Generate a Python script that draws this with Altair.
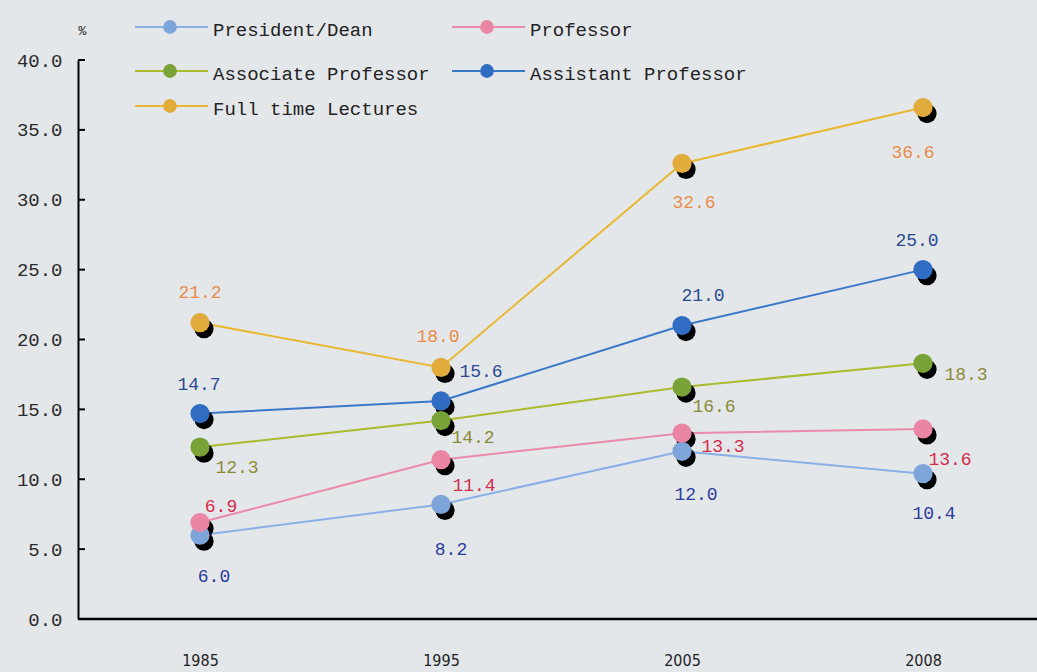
import altair as alt
import pandas as pd

# ---- data -------------------------------------------------------------
years = ["1985", "1995", "2005", "2008"]
series = [
    "President/Dean",
    "Professor",
    "Associate Professor",
    "Assistant Professor",
    "Full time Lectures",
]
president = [6.0, 8.2, 12.0, 10.4]
professor = [6.9, 11.4, 13.3, 13.6]
associate = [12.3, 14.2, 16.6, 18.3]
assistant = [14.7, 15.6, 21.0, 25.0]
lecturer = [21.2, 18.0, 32.6, 36.6]
y_ticks = [0, 5, 10, 15, 20, 25, 30, 35, 40]

# ---- styling ----------------------------------------------------------
marker_colors = ["#7ea5da", "#ea86a3", "#79a337", "#2f6cc2", "#e1ac3b"]
line_colors = ["#88b0e6", "#ea8aa8", "#aabb2c", "#3a78ca", "#e8b832"]
label_colors = ["#2b3c9c", "#d42a4a", "#8a8a36", "#2a4a92", "#e98c48"]
# pixel offsets of each value label from its marker
label_offsets = {
    "President/Dean": [(14, 42), (10, 46), (14, 44), (11, 40)],
    "Professor": [(21, -16), (33, 26), (41, 14), (27, 31)],
    "Associate Professor": [(37, 21), (32, 17), (32, 20), (43, 12)],
    "Assistant Professor": [(-1, -29), (40, -29), (21, -30), (-6, -29)],
    "Full time Lectures": [(0, -30), (-3, -30), (12, 40), (-10, 45)],
}
MONO = "Liberation Mono"
PLOT_W, PLOT_H = 959, 559

values_by_series = [president, professor, associate, assistant, lecturer]
df = pd.DataFrame(
    [
        {"series": s, "year": y, "value": v}
        for s, vals in zip(series, values_by_series)
        for y, v in zip(years, vals)
    ]
)

x_enc = alt.X(
    "year:O",
    scale=alt.Scale(type="point", domain=years, range=[122, 845], padding=0),
    axis=alt.Axis(
        title=None,
        labelAngle=0,
        ticks=False,
        domain=False,
        labelPadding=33,
        labelFont="Liberation Sans Narrow, DejaVu Sans Condensed",
        labelFontSize=16,
        labelColor="#222222",
    ),
)
y_enc = alt.Y(
    "value:Q",
    scale=alt.Scale(domain=[0, 40], nice=False),
    axis=alt.Axis(
        values=y_ticks,
        format=".1f",
        ticks=False,
        grid=False,
        domainColor="black",
        domainWidth=2,
        labelPadding=16,
        labelFont=MONO,
        labelFontSize=19,
        labelColor="#2a2a2a",
        title="%",
        titleAngle=0,
        titleX=4,
        titleY=-30,
        titleAlign="center",
        titleBaseline="middle",
        titleFont=MONO,
        titleFontSize=13,
        titleFontWeight="normal",
        titleColor="#222222",
    ),
)
stroke_enc = alt.Stroke(
    "series:N", scale=alt.Scale(domain=series, range=line_colors), legend=None
)
fill_enc = alt.Fill(
    "series:N", scale=alt.Scale(domain=series, range=marker_colors), legend=None
)

base = alt.Chart(df)

lines = base.mark_line(strokeWidth=2).encode(x=x_enc, y=y_enc, stroke=stroke_enc)
shadows = base.mark_circle(size=370, opacity=1, color="black", xOffset=4, yOffset=6).encode(
    x=x_enc, y=y_enc
)
markers = base.mark_circle(size=370, opacity=1).encode(x=x_enc, y=y_enc, fill=fill_enc)

# inward tick marks on the value axis
ticks = (
    alt.Chart(pd.DataFrame({"value": y_ticks}))
    .mark_rule(color="black", strokeWidth=2)
    .encode(y=y_enc, x=alt.value(0), x2=alt.value(7))
)
# baseline running across the full plot width
baseline = (
    alt.Chart(pd.DataFrame({"value": [0]}))
    .mark_rule(color="black", strokeWidth=2.5)
    .encode(y=y_enc, x=alt.value(0), x2=alt.value(PLOT_W))
)

label_layers = []
for s, color in zip(series, label_colors):
    for i, y in enumerate(years):
        dx, dy = label_offsets[s][i]
        sub = df[(df.series == s) & (df.year == y)]
        label_layers.append(
            alt.Chart(sub)
            .mark_text(
                font=MONO,
                fontSize=18,
                color=color,
                align="center",
                baseline="middle",
                dx=dx,
                dy=dy,
            )
            .encode(x=x_enc, y=y_enc, text=alt.Text("value:Q", format=".1f"))
        )

plot = alt.layer(lines, ticks, baseline, shadows, markers, *label_layers)

# ---- legend: two columns, line + dot + name ---------------------------
legend_rows_px = [-33, 11, 46]
legend_cols_px = [92, 409]
leg = []
for k, s in enumerate(series):
    row, col = divmod(k, 2)
    cx = legend_cols_px[col]
    leg.append(
        {
            "series": s,
            "cx": cx,
            "x0": cx - 35,
            "x1": cx + 38,
            "tx": cx + 43,
            "cy": legend_rows_px[row],
        }
    )
leg_df = pd.DataFrame(leg)
leg_base = alt.Chart(leg_df)
leg_lines = leg_base.mark_rule(strokeWidth=2).encode(
    x=alt.X("x0:Q", scale=None),
    x2="x1:Q",
    y=alt.Y("cy:Q", scale=None),
    stroke=stroke_enc,
)
leg_dots = leg_base.mark_circle(size=190, opacity=1).encode(
    x=alt.X("cx:Q", scale=None), y=alt.Y("cy:Q", scale=None), fill=fill_enc
)
leg_text = leg_base.mark_text(
    align="left", baseline="middle", dy=3, font=MONO, fontSize=19, color="#222222"
).encode(x=alt.X("tx:Q", scale=None), y=alt.Y("cy:Q", scale=None), text="series:N")
legend = alt.layer(leg_lines, leg_dots, leg_text)

chart = (
    alt.layer(plot, legend)
    .resolve_scale(x="independent", y="independent")
    .properties(
        width=PLOT_W,
        height=PLOT_H,
        padding={"left": 78, "top": 60, "right": 0, "bottom": 53},
        autosize="none",
    )
    .configure(background="#e4e7ea")
    .configure_view(stroke=None)
)

chart.save("out.html", embed_options={"renderer": "svg", "actions": False})
